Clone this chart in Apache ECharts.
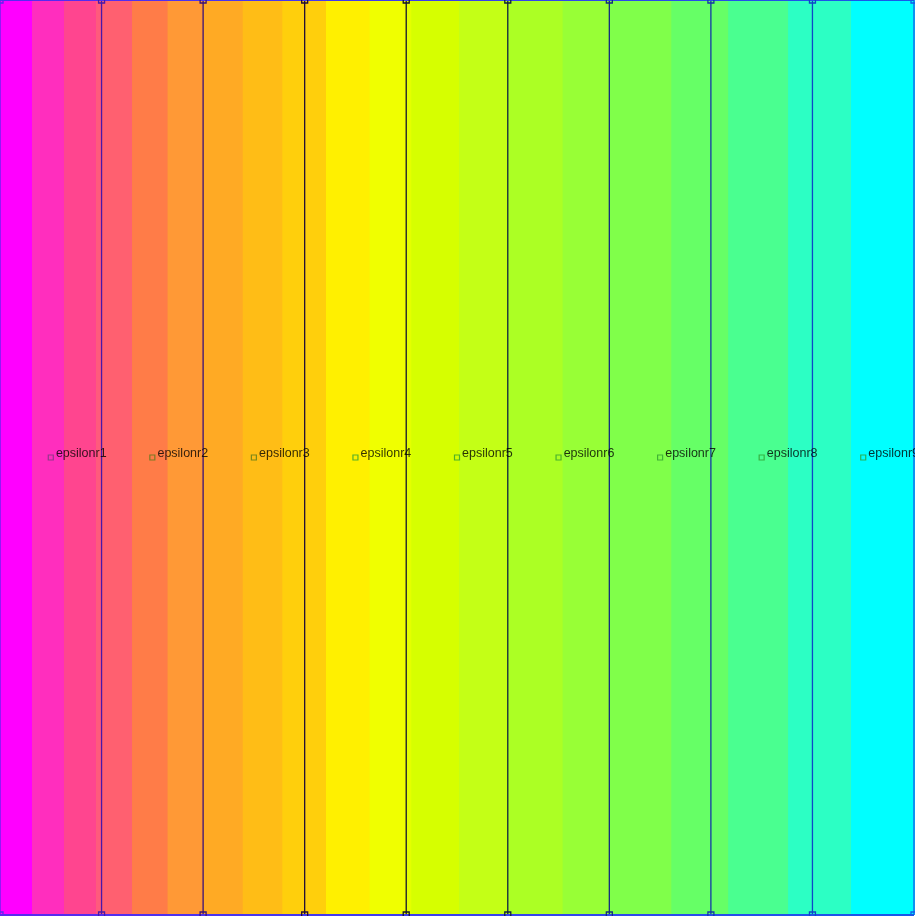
<!DOCTYPE html>
<html>
<head>
<meta charset="utf-8">
<style>html,body{margin:0;padding:0;background:#fff;}#chart{width:915px;height:916px;}</style>
<script src="https://cdn.jsdelivr.net/npm/echarts@6/dist/echarts.min.js"></script>
</head>
<body>
<div id="chart"></div>
<script>
// Domain extent
const xMin = 0, xMax = 9, yMin = 0, yMax = 9;
// Filled contour band edges along x
const bandEdges = [0, 0.315, 0.63, 0.945, 1.0, 1.30, 1.65, 2.0, 2.39, 2.78, 3.21, 3.64, 4.0, 4.05, 4.52, 5.0, 5.54, 6.0, 6.61, 7.17, 7.76, 8.38, 9];
// Subdomain boundaries (interior)
const boundaries = [1, 2, 3, 4, 5, 6, 7, 8];
// Subdomain labels and their anchor points
const labelNames = ['epsilonr1','epsilonr2','epsilonr3','epsilonr4','epsilonr5','epsilonr6','epsilonr7','epsilonr8','epsilonr9'];
const labelX = [0.5, 1.5, 2.5, 3.5, 4.5, 5.5, 6.5, 7.5, 8.5];
const labelY = [4.5, 4.5, 4.5, 4.5, 4.5, 4.5, 4.5, 4.5, 4.5];

// Styles
const bandColors = ['#FF00FF','#FF2EBE','#FF458F','#FF5A7C','#FF6070','#FF7C48','#FF9936','#FFAA24','#FFBD16','#FFCF0C','#FFF000','#F0FF00','#E4FF00','#D6FF00','#C4FF16','#ACFF24','#98FF36','#80FF4A','#66FF66','#4AFF90','#2CFFC4','#00FFFF'];
const boundaryColors = ['#4A18A8','#3A1078','#220C38','#141430','#102040','#142C80','#1438A8','#1046C8'];
const borderLeftColor = '#5A28F0';
const borderRightColor = '#1858E8';
const markerColors = ['#7A3A80','#5A7A1A','#5A7A1A','#30A030','#30A030','#30A030','#30A030','#30A030','#30A030'];

const bandData = [];
for (let i = 0; i < bandEdges.length - 1; i++) bandData.push([bandEdges[i], bandEdges[i + 1], i]);

const series = [];
series.push({
  type: 'custom',
  silent: true,
  data: bandData,
  encode: { x: [0, 1] },
  renderItem: function (params, api) {
    const p0 = api.coord([api.value(0), yMax]);
    const p1 = api.coord([api.value(1), yMin]);
    const idx = api.value(2);
    return {
      type: 'rect',
      shape: { x: p0[0], y: p0[1], width: p1[0] - p0[0] + 1, height: p1[1] - p0[1] },
      style: { fill: bandColors[idx] }
    };
  },
  z: 1
});

function vline(x, color) {
  return {
    type: 'line',
    data: [[x, yMin], [x, yMax]],
    symbol: 'rect',
    symbolSize: 6,
    clip: false,
    silent: true,
    lineStyle: { color: color, width: 1.3 },
    itemStyle: { color: 'transparent', borderColor: color, borderWidth: 1.3 },
    z: 3
  };
}
boundaries.forEach((b, i) => series.push(vline(b, boundaryColors[i])));
series.push(vline(xMin, borderLeftColor));
series.push(vline(xMax, borderRightColor));

const grad = { type: 'linear', x: 0, y: 0, x2: 1, y2: 0, colorStops: [{ offset: 0, color: borderLeftColor }, { offset: 1, color: borderRightColor }] };
[yMin, yMax].forEach(y => series.push({
  type: 'line',
  data: [[xMin, y], [xMax, y]],
  symbol: 'none',
  clip: false,
  silent: true,
  lineStyle: { color: grad, width: 2 },
  z: 3
}));

series.push({
  type: 'scatter',
  symbol: 'rect',
  symbolSize: 5,
  silent: true,
  data: labelNames.map((n, i) => ({
    name: n,
    value: [labelX[i], labelY[i]],
    itemStyle: { color: 'transparent', borderColor: markerColors[i], borderWidth: 1.2 }
  })),
  label: {
    show: true,
    position: 'right',
    distance: 2,
    offset: [0, -4],
    formatter: '{b}',
    color: '#000',
    fontFamily: 'Liberation Sans',
    fontSize: 12.5
  },
  z: 4
});

const chart = echarts.init(document.getElementById('chart'), null, { renderer: 'canvas' });
chart.setOption({
  animation: false,
  backgroundColor: '#fff',
  grid: { left: 0, right: 1, top: 0, bottom: 1 },
  xAxis: { type: 'value', min: xMin, max: xMax, show: false },
  yAxis: { type: 'value', min: yMin, max: yMax, show: false },
  series: series
});
</script>
</body>
</html>
